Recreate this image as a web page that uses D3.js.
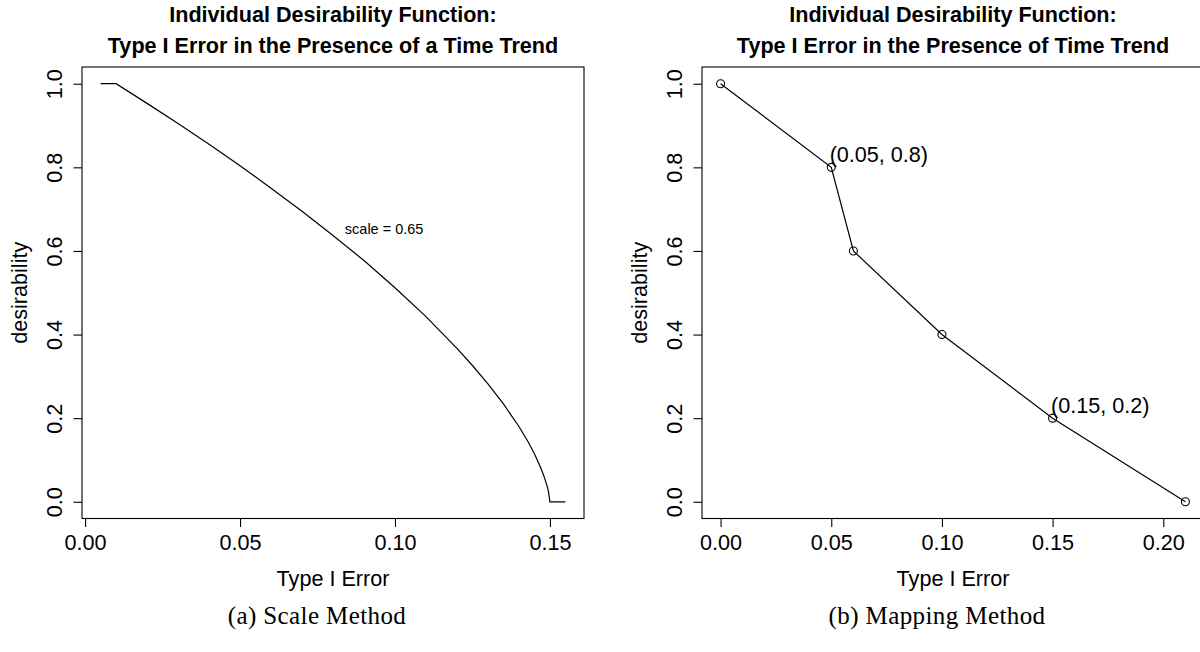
<!DOCTYPE html>
<html>
<head>
<meta charset="utf-8">
<script src="https://cdn.jsdelivr.net/npm/d3@7"></script>
<style>
  html, body { margin: 0; padding: 0; background: #fff; }
  svg { display: block; }
</style>
</head>
<body>
<svg id="chart" width="1200" height="652"></svg>
<script>
// ---- data ----------------------------------------------------------------
// (a) desirability curve for the scale method
const scaleError = [0.005, 0.01, 0.02, 0.03, 0.04, 0.05, 0.06, 0.07, 0.08, 0.09, 0.10,
                    0.11, 0.12, 0.125, 0.13, 0.135, 0.14, 0.143, 0.145, 0.147, 0.148,
                    0.149, 0.1495, 0.15, 0.155];
const scaleDesirability = [1, 1, 0.953, 0.905, 0.855, 0.804, 0.750, 0.695, 0.637, 0.577, 0.512,
                           0.443, 0.367, 0.326, 0.282, 0.234, 0.180, 0.143, 0.115, 0.082, 0.063,
                           0.040, 0.026, 0, 0];
const scaleExponent = 0.65;

// (b) mapping points
const mapError = [0, 0.05, 0.06, 0.10, 0.15, 0.21];
const mapDesirability = [1, 0.8, 0.6, 0.4, 0.2, 0];
const mapLabelled = [1, 4];

// axes
const xTicksA = [0, 0.05, 0.10, 0.15];
const xTicksB = [0, 0.05, 0.10, 0.15, 0.20];
const yTicks = [0, 0.2, 0.4, 0.6, 0.8, 1.0];

const titleA = ["Individual Desirability Function:", "Type I Error in the Presence of a Time Trend"];
const titleB = ["Individual Desirability Function:", "Type I Error in the Presence of Time Trend"];
const captions = ["(a) Scale Method", "(b) Mapping Method"];
const xLabel = "Type I Error";
const yLabel = "desirability";

// ---- layout --------------------------------------------------------------
const SANS = "'Liberation Sans', Arial, Helvetica, sans-serif";
const SERIF = "'Liberation Serif', 'DejaVu Serif', serif";
const BOX_TOP = 67, BOX_BOTTOM = 518.5, BOX_W = 502;
const TICK = 8.5;
const FS = 21.6;

const svg = d3.select("#chart");

function pad(lo, hi) { const d = (hi - lo) * 0.04; return [lo - d, hi + d]; }

function panel(left, xDomain, xTicks, title, caption) {
  const g = svg.append("g");
  const x = d3.scaleLinear().domain(pad(...xDomain)).range([left, left + BOX_W]);
  const y = d3.scaleLinear().domain(pad(0, 1)).range([BOX_BOTTOM, BOX_TOP]);
  const cx = left + BOX_W / 2;

  // bottom axis
  const ax = g.append("g").attr("transform", `translate(0,${BOX_BOTTOM})`)
    .call(d3.axisBottom(x).tickValues(xTicks).tickFormat(d3.format(".2f"))
      .tickSize(TICK).tickPadding(7.5));
  ax.select(".domain").remove();
  ax.selectAll("line").attr("stroke", "#000").attr("stroke-width", 1.1);
  ax.selectAll("text").attr("font-family", SANS).attr("font-size", FS).attr("fill", "#000");

  // left axis, labels rotated like base graphics
  const ay = g.append("g").attr("transform", `translate(${left},0)`)
    .call(d3.axisLeft(y).tickValues(yTicks).tickFormat(d3.format(".1f")).tickSize(TICK));
  ay.select(".domain").remove();
  ay.selectAll("line").attr("stroke", "#000").attr("stroke-width", 1.1);
  ay.selectAll("text")
    .attr("font-family", SANS).attr("font-size", FS).attr("fill", "#000")
    .attr("x", null).attr("dy", null)
    .attr("text-anchor", "middle")
    .attr("transform", "translate(-28,0) rotate(-90)")
    .attr("dominant-baseline", "central");

  // plot box
  g.append("rect").attr("x", left).attr("y", BOX_TOP)
    .attr("width", BOX_W).attr("height", BOX_BOTTOM - BOX_TOP)
    .attr("fill", "none").attr("stroke", "#000").attr("stroke-width", 1.1);

  // titles
  title.forEach((t, i) => {
    g.append("text").attr("x", cx).attr("y", 21.5 + i * 31)
      .attr("text-anchor", "middle").attr("font-family", SANS)
      .attr("font-weight", "bold").attr("font-size", FS).text(t);
  });
  g.append("text").attr("x", cx).attr("y", 586)
    .attr("text-anchor", "middle").attr("font-family", SANS)
    .attr("font-size", FS).text(xLabel);
  g.append("text")
    .attr("transform", `translate(${left - 63},${(BOX_TOP + BOX_BOTTOM) / 2}) rotate(-90)`)
    .attr("text-anchor", "middle").attr("dominant-baseline", "central")
    .attr("font-family", SANS).attr("font-size", FS).text(yLabel);

  // caption
  svg.append("text").attr("x", cx - 16).attr("y", 624)
    .attr("text-anchor", "middle").attr("font-family", SERIF)
    .attr("font-size", 25).attr("letter-spacing", 0.4).text(caption);

  return { g, x, y };
}

// ---- (a) scale method -----------------------------------------------------
const A = panel(82, [d3.min(scaleError), d3.max(scaleError)], xTicksA, titleA, captions[0]);
const lineA = d3.line().x((d, i) => A.x(scaleError[i])).y((d, i) => A.y(scaleDesirability[i]));
A.g.append("path").datum(scaleError).attr("d", lineA)
  .attr("fill", "none").attr("stroke", "#000").attr("stroke-width", 1.2);
A.g.append("text").attr("x", A.x(0.0965)).attr("y", A.y(0.652))
  .attr("text-anchor", "middle").attr("dominant-baseline", "central")
  .attr("font-family", SANS).attr("font-size", 14.5).text(`scale = ${scaleExponent}`);

// ---- (b) mapping method ---------------------------------------------------
const B = panel(702, [d3.min(mapError), d3.max(mapError)], xTicksB, titleB, captions[1]);
const lineB = d3.line().x((d, i) => B.x(mapError[i])).y((d, i) => B.y(mapDesirability[i]));
B.g.append("path").datum(mapError).attr("d", lineB)
  .attr("fill", "none").attr("stroke", "#000").attr("stroke-width", 1.2);
B.g.selectAll("circle.pt").data(mapError).enter().append("circle")
  .attr("class", "pt")
  .attr("cx", d => B.x(d)).attr("cy", (d, i) => B.y(mapDesirability[i]))
  .attr("r", 4).attr("fill", "none").attr("stroke", "#000").attr("stroke-width", 1.1);

// value labels offset to the upper right of their points
const labelOffset = { dx: 0.0215, dy: 0.03 };
mapLabelled.forEach(i => {
  B.g.append("text")
    .attr("x", B.x(mapError[i] + labelOffset.dx)).attr("y", B.y(mapDesirability[i] + labelOffset.dy))
    .attr("text-anchor", "middle").attr("dominant-baseline", "central")
    .attr("font-family", SANS).attr("font-size", FS)
    .text(`(${mapError[i]}, ${mapDesirability[i]})`);
});
</script>
</body>
</html>
